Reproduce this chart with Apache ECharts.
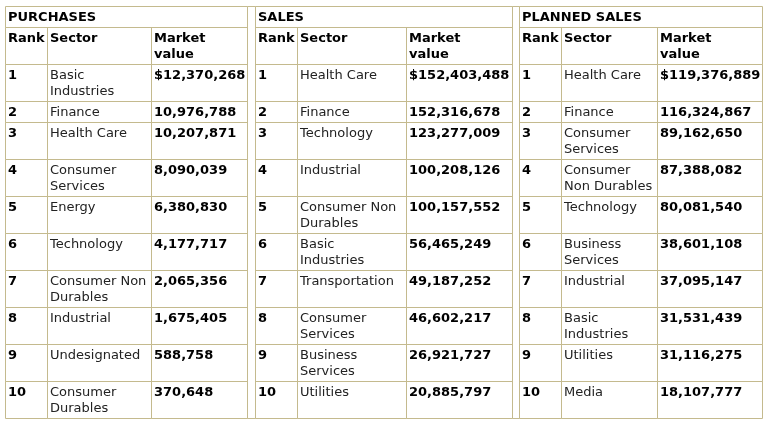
<!DOCTYPE html>
<html>
<head>
<meta charset="utf-8">
<script src="https://cdn.jsdelivr.net/npm/echarts@6/dist/echarts.min.js"></script>
<style>
html, body { margin: 0; padding: 0; background: #fff; }
#main { width: 768px; height: 427px; }
</style>
</head>
<body>
<div id="main"></div>
<script>
// table data
const ranks = [1, 2, 3, 4, 5, 6, 7, 8, 9, 10];
const headers = ['Rank', 'Sector', 'Market\nvalue'];

const purchaseSectors = ['Basic\nIndustries', 'Finance', 'Health Care', 'Consumer\nServices', 'Energy',
    'Technology', 'Consumer Non\nDurables', 'Industrial', 'Undesignated', 'Consumer\nDurables'];
const purchaseValues = [12370268, 10976788, 10207871, 8090039, 6380830, 4177717, 2065356, 1675405, 588758, 370648];

const salesSectors = ['Health Care', 'Finance', 'Technology', 'Industrial', 'Consumer Non\nDurables',
    'Basic\nIndustries', 'Transportation', 'Consumer\nServices', 'Business\nServices', 'Utilities'];
const salesValues = [152403488, 152316678, 123277009, 100208126, 100157552, 56465249, 49187252, 46602217, 26921727, 20885797];

const plannedSectors = ['Health Care', 'Finance', 'Consumer\nServices', 'Consumer\nNon Durables', 'Technology',
    'Business\nServices', 'Industrial', 'Basic\nIndustries', 'Utilities', 'Media'];
const plannedValues = [119376889, 116324867, 89162650, 87388082, 80081540, 38601108, 37095147, 31531439, 31116275, 18107777];

const sections = [
    { title: 'PURCHASES', sectors: purchaseSectors, values: purchaseValues },
    { title: 'SALES', sectors: salesSectors, values: salesValues },
    { title: 'PLANNED SALES', sectors: plannedSectors, values: plannedValues }
];

// layout (axis units = pixels)
const colEdges = [[5, 47, 151, 247], [255, 297, 406, 512], [519, 561, 657, 762]];
const rowEdges = [6, 27, 64, 101, 122, 159, 196, 233, 270, 307, 344, 381, 418];
const BORDER = '#c4ba8e';

const cells = [];
function addCell(x0, x1, y0, y1, text, bold) {
    cells.push({ value: [x0, y0, x1, y1], text: text, bold: bold });
}

sections.forEach((s, si) => {
    const c = colEdges[si];
    addCell(c[0], c[3], rowEdges[0], rowEdges[1], s.title, true);
    headers.forEach((h, k) => addCell(c[k], c[k + 1], rowEdges[1], rowEdges[2], h, true));
    ranks.forEach((r, i) => {
        const y0 = rowEdges[i + 2], y1 = rowEdges[i + 3];
        addCell(c[0], c[1], y0, y1, String(r), true);
        addCell(c[1], c[2], y0, y1, s.sectors[i], false);
        addCell(c[2], c[3], y0, y1, (i === 0 ? '$' : '') + s.values[i].toLocaleString('en-US'), true);
    });
    // spacer column between tables
    if (si < sections.length - 1) addCell(c[3], colEdges[si + 1][0], rowEdges[0], rowEdges[rowEdges.length - 1], '', false);
});

const chart = echarts.init(document.getElementById('main'));
chart.setOption({
    animation: false,
    grid: { left: 0, right: 0, top: 0, bottom: 0 },
    xAxis: { type: 'value', min: 0, max: 768, show: false },
    yAxis: { type: 'value', min: 0, max: 427, inverse: true, show: false },
    series: [{
        type: 'custom',
        silent: true,
        data: cells,
        renderItem: function (params, api) {
            const cell = cells[params.dataIndex];
            const p0 = api.coord([api.value(0), api.value(1)]);
            const p1 = api.coord([api.value(2), api.value(3)]);
            return {
                type: 'group',
                children: [{
                    type: 'rect',
                    shape: {
                        x: Math.round(p0[0]) + 0.5,
                        y: Math.round(p0[1]) + 0.5,
                        width: Math.round(p1[0] - p0[0]),
                        height: Math.round(p1[1] - p0[1])
                    },
                    style: { fill: null, stroke: BORDER, lineWidth: 1 }
                }, {
                    type: 'text',
                    style: {
                        x: p0[0] + 3,
                        y: p0[1] + 4,
                        text: cell.text,
                        fill: cell.bold ? '#000' : '#222',
                        fontFamily: '"DejaVu Sans", Verdana, sans-serif',
                        fontSize: 13,
                        fontWeight: cell.bold ? 'bold' : 'normal',
                        lineHeight: 16,
                        verticalAlign: 'top',
                        align: 'left'
                    }
                }]
            };
        }
    }]
});
</script>
</body>
</html>
